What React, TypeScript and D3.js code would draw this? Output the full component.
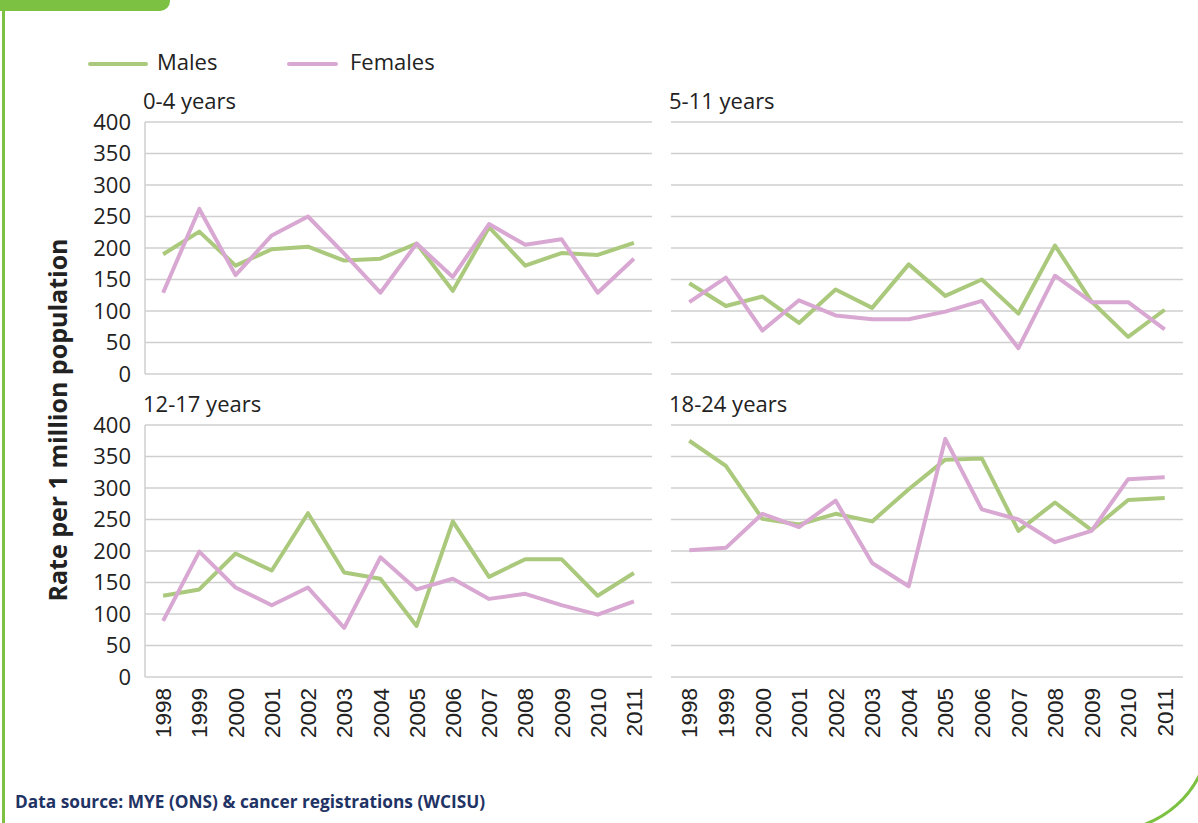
import React, { useEffect } from 'react';
import * as d3 from 'd3';

const years = ['1998', '1999', '2000', '2001', '2002', '2003', '2004', '2005', '2006', '2007', '2008', '2009', '2010', '2011'];
const yTicks = [0, 50, 100, 150, 200, 250, 300, 350, 400];
const seriesNames = ['Males', 'Females'];
const panelTitles = ['0-4 years', '5-11 years', '12-17 years', '18-24 years'];

const males0to4 = [190, 226, 172, 198, 202, 180, 183, 207, 132, 233, 172, 192, 189, 208];
const females0to4 = [129, 262, 157, 220, 250, 191, 129, 207, 154, 238, 205, 214, 129, 183];
const males5to11 = [144, 108, 123, 81, 134, 105, 174, 124, 150, 96, 204, 115, 59, 102];
const females5to11 = [114, 153, 69, 117, 93, 87, 87, 99, 116, 41, 156, 114, 114, 71];
const males12to17 = [129, 139, 196, 169, 260, 166, 156, 81, 247, 159, 187, 187, 129, 165];
const females12to17 = [89, 199, 142, 114, 142, 78, 190, 139, 156, 124, 132, 114, 99, 120];
const males18to24 = [375, 335, 251, 242, 259, 247, 298, 345, 347, 232, 277, 233, 281, 284];
const females18to24 = [201, 205, 259, 238, 280, 181, 144, 378, 266, 250, 214, 232, 314, 317];

const maleColor = '#abc97c';
const femaleColor = '#d8a8d2';
const gridColor = '#cfcfcf';
const frameGreen = '#7cc142';
const navy = '#1f3365';
const font = "'Open Sans', 'Noto Sans', sans-serif";

const panels = [
  { title: panelTitles[0], males: males0to4, females: females0to4, x0: 145, x1: 652, y0: 122, y1: 374, left: true, bottom: false },
  { title: panelTitles[1], males: males5to11, females: females5to11, x0: 671, x1: 1183, y0: 122, y1: 374, left: false, bottom: false },
  { title: panelTitles[2], males: males12to17, females: females12to17, x0: 145, x1: 652, y0: 425, y1: 677, left: true, bottom: true },
  { title: panelTitles[3], males: males18to24, females: females18to24, x0: 671, x1: 1183, y0: 425, y1: 677, left: false, bottom: true },
];

function Panel({ p }: { p: typeof panels[number] }) {
  const x = d3.scaleBand<string>().domain(years).range([p.x0, p.x1]);
  const y = d3.scaleLinear().domain([0, 400]).range([p.y1, p.y0]);
  const cx = (d: string) => (x(d) as number) + x.bandwidth() / 2;
  const line = d3
    .line<number>()
    .x((_, i) => cx(years[i]))
    .y((v) => y(v));
  return (
    <g>
      <text x={p.x0 - 2} y={p.y0 - 13} fontFamily={font} fontSize={22} fill="#222">
        {p.title}
      </text>
      {yTicks.map((t) => (
        <line key={t} x1={p.x0} x2={p.x1} y1={y(t)} y2={y(t)} stroke={gridColor} strokeWidth={1.5} />
      ))}
      {p.left && <line x1={p.x0} x2={p.x0} y1={p.y0} y2={p.y1} stroke={gridColor} strokeWidth={1.5} />}
      {p.left &&
        yTicks.map((t) => (
          <text key={'l' + t} x={131} y={y(t)} dy="0.36em" textAnchor="end" fontFamily={font} fontSize={22} fill="#222">
            {t}
          </text>
        ))}
      {p.bottom &&
        years.map((yr) => (
          <text
            key={yr}
            transform={`translate(${cx(yr)},${p.y1 + 11}) rotate(-90)`}
            dy="0.36em"
            textAnchor="end"
            fontFamily="'Liberation Sans', Arial, sans-serif"
            fontSize={22.5}
            fill="#222"
          >
            {yr}
          </text>
        ))}
      <path d={line(p.males) || ''} fill="none" stroke={maleColor} strokeWidth={4} strokeLinejoin="round" />
      <path d={line(p.females) || ''} fill="none" stroke={femaleColor} strokeWidth={4} strokeLinejoin="round" />
    </g>
  );
}

export default function App() {
  useEffect(() => {
    document.body.style.margin = '0';
  }, []);
  return (
    <svg width={1198} height={823} style={{ display: 'block', background: '#fff' }}>
      <path d="M0,0 H170 V1 A10,10 0 0 1 160,11 H0 Z" fill={frameGreen} />
      <line x1={3.5} x2={3.5} y1={5} y2={823} stroke={frameGreen} strokeWidth={3} />
      <path d="M1140,826 A100,100 0 0 0 1201,772" fill="none" stroke={frameGreen} strokeWidth={3} />
      {/* legend */}
      <line x1={90} x2={146} y1={64} y2={64} stroke={maleColor} strokeWidth={4} strokeLinecap="round" />
      <text x={157} y={70} fontFamily={font} fontSize={22} fill="#222">{seriesNames[0]}</text>
      <line x1={289} x2={336} y1={64} y2={64} stroke={femaleColor} strokeWidth={4} strokeLinecap="round" />
      <text x={350} y={70} fontFamily={font} fontSize={22} fill="#222">{seriesNames[1]}</text>
      {/* y axis title */}
      <text
        transform="translate(58,420) rotate(-90)"
        dy="0.36em"
        textAnchor="middle"
        fontFamily={font}
        fontWeight="bold"
        fontSize={25}
        fill="#222"
      >
        Rate per 1 million population
      </text>
      {panels.map((p) => (
        <Panel key={p.title} p={p} />
      ))}
      <text x={15} y={808} fontFamily={font} fontWeight="bold" fontSize={17.3} fill={navy}>
        Data source: MYE (ONS) &amp; cancer registrations (WCISU)
      </text>
    </svg>
  );
}
